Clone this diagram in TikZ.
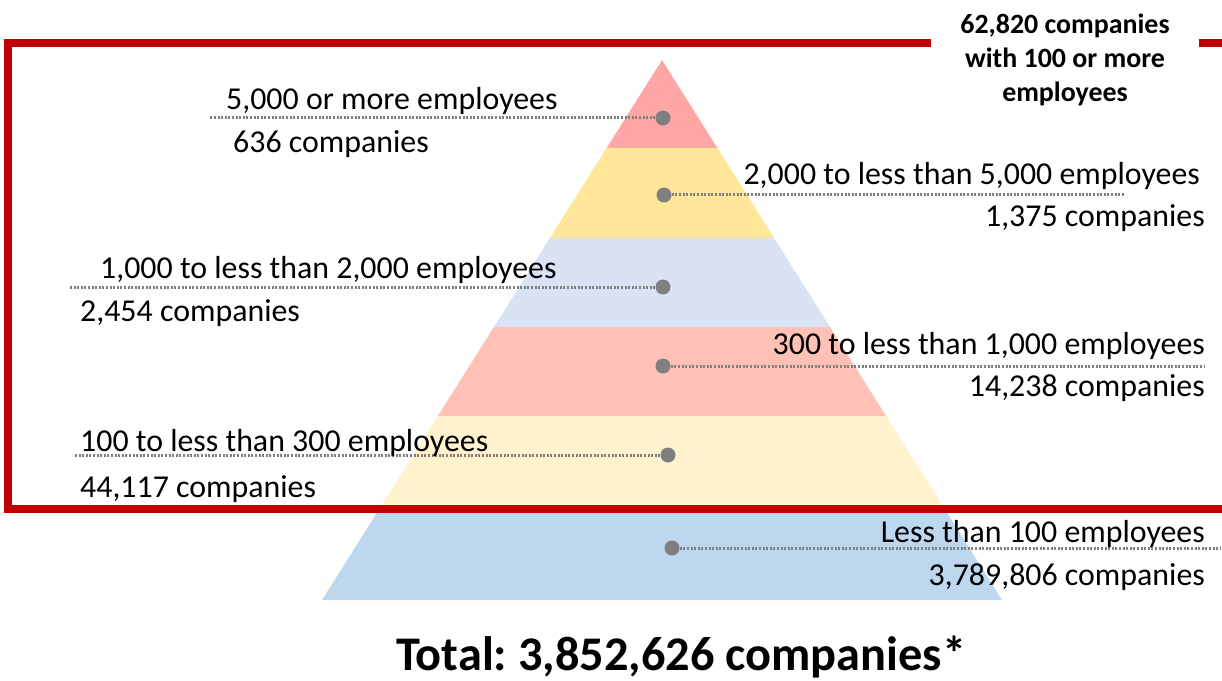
\documentclass[tikz,border=0pt]{standalone}
\usepackage{fontspec}
\setmainfont{Carlito}
\frenchspacing
\definecolor{bandA}{HTML}{FFA7A7}
\definecolor{bandB}{HTML}{FFE699}
\definecolor{bandC}{HTML}{DAE3F3}
\definecolor{bandD}{HTML}{FFC1B6}
\definecolor{bandE}{HTML}{FFF2CC}
\definecolor{bandF}{HTML}{BDD7EE}
\definecolor{framered}{HTML}{C00000}
\definecolor{dotgray}{HTML}{7F7F7F}
\begin{document}
\begin{tikzpicture}[x=1bp,y=-1bp,
  lbl/.style={inner sep=0pt, font=\fontsize{32}{38}\selectfont},
  dotline/.style={draw=dotgray, line width=3bp, dash pattern=on 2bp off 1.6bp},
  dotc/.style={circle, fill=dotgray, draw=none, inner sep=0pt, minimum size=15bp},
  frameline/.style={draw=framered, line width=8bp, miter limit=10}]
\useasboundingbox (0,0) rectangle (1222,681);
% pyramid bands
\fill[bandA] (662,60) -- (717.4,148) -- (606.6,148) -- cycle;
\fill[bandB] (606.6,148) -- (717.4,148) -- (774.1,238) -- (549.9,238) -- cycle;
\fill[bandC] (549.9,238) -- (774.1,238) -- (830.1,327) -- (493.9,327) -- cycle;
\fill[bandD] (493.9,327) -- (830.1,327) -- (886.1,416) -- (437.9,416) -- cycle;
\fill[bandE] (437.9,416) -- (886.1,416) -- (942.8,506) -- (381.2,506) -- cycle;
\fill[bandF] (381.2,506) -- (942.8,506) -- (1002,600) -- (322,600) -- cycle;
% red frame
\coordinate (fa) at (931,43);
\coordinate (fb) at (8,43);
\coordinate (fc) at (8,509);
\coordinate (fd) at (1222,509);
\coordinate (fe) at (1199,43);
\coordinate (ff) at (1222,43);
\draw[frameline] (fa) -- (fb) -- (fc) -- (fd);
\draw[frameline] (fe) -- (ff);
% dots and leader lines
\node[dotc] (d1) at (663,118) {};
\node[dotc] (d2) at (664,195) {};
\node[dotc] (d3) at (663,287) {};
\node[dotc] (d4) at (663,366) {};
\node[dotc] (d5) at (668,455) {};
\node[dotc] (d6) at (672,548) {};
\coordinate (e1) at (210,118);
\coordinate (e2) at (1125,195);
\coordinate (e3) at (70,287);
\coordinate (e4) at (1205,366);
\coordinate (e5) at (75,455);
\coordinate (e6) at (1220,548);
\draw[dotline] (d1) -- (e1);
\draw[dotline] (d2) -- (e2);
\draw[dotline] (d3) -- (e3);
\draw[dotline] (d4) -- (e4);
\draw[dotline] (d5) -- (e5);
\draw[dotline] (d6) -- (e6);
% labels
\node[lbl, anchor=base west] (t1a) at (226,110) {5,000 or more employees};
\node[lbl, anchor=base west] (t1b) at (233,153) {636 companies};
\node[lbl, anchor=base east] (t2a) at (1200,185) {2,000 to less than 5,000 employees};
\node[lbl, anchor=base east] (t2b) at (1205,227) {1,375 companies};
\node[lbl, anchor=base west] (t3a) at (100,278) {1,000 to less than 2,000 employees};
\node[lbl, anchor=base west] (t3b) at (80,321) {2,454 companies};
\node[lbl, anchor=base east] (t4a) at (1205,354) {300 to less than 1,000 employees};
\node[lbl, anchor=base east] (t4b) at (1205,396) {14,238 companies};
\node[lbl, anchor=base west] (t5a) at (80,451) {100 to less than 300 employees};
\node[lbl, anchor=base west] (t5b) at (80,497) {44,117 companies};
\node[lbl, anchor=base east] (t6a) at (1205,542) {Less than 100 employees};
\node[lbl, anchor=base east] (t6b) at (1205,585) {3,789,806 companies};
% top-right summary
\node[inner sep=0pt, anchor=north, align=center, font=\bfseries\fontsize{28}{34}\selectfont] (summary) at (1065,14) {62,820 companies\\with 100 or more\\employees};
% total
\node[inner sep=0pt, anchor=base, font=\bfseries\fontsize{48.5}{58}\selectfont] (total) at (681,670) {Total: 3,852,626 companies*};
\end{tikzpicture}
\end{document}
